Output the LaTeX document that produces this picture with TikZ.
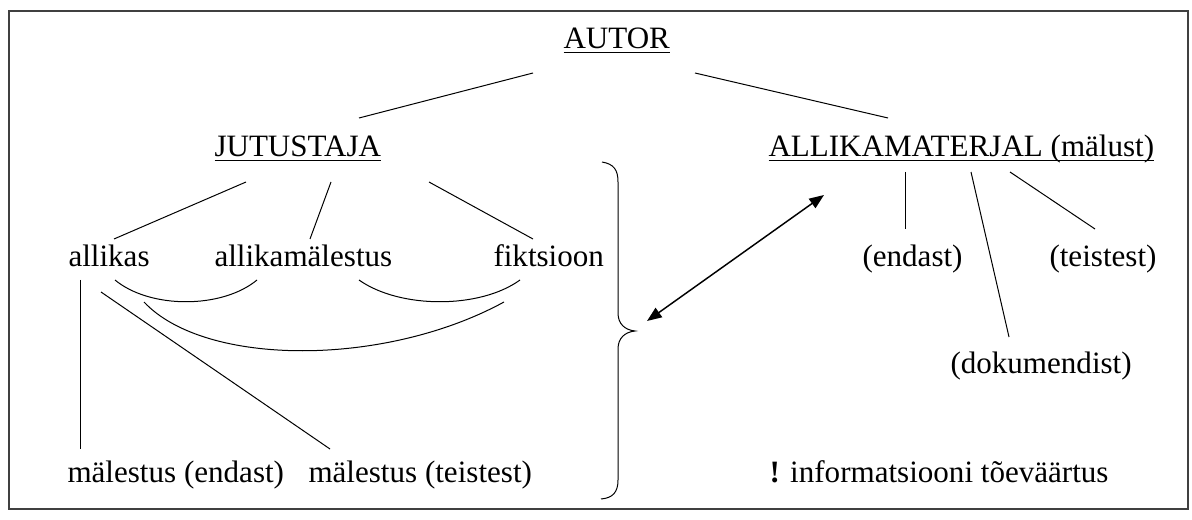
\documentclass[tikz,border=0pt]{standalone}
\usepackage{fontspec}
\setmainfont{Liberation Serif}
\usetikzlibrary{arrows.meta}

\newsavebox{\undlbox}
\newcommand{\undl}[1]{\sbox{\undlbox}{#1}\rlap{\rule[-3.3pt]{\wd\undlbox}{0.95pt}}\usebox{\undlbox}}

\tikzset{every picture/.style={line width=0.75pt}}

\begin{document}
\begin{tikzpicture}[x=0.75pt,y=0.75pt,yscale=-1,xscale=1,
  lbl/.style={anchor=base west,inner sep=0pt,font=\fontsize{23.3}{27}\selectfont},
  frame/.style={line width=1.5pt,draw={rgb,255:red,64;green,64;blue,64}},
  dblarrow/.style={line width=1.1pt,{Triangle[length=11pt,width=8.5pt]}-{Triangle[length=11pt,width=8.5pt]}}]
\useasboundingbox (0,0) rectangle (1192,520);

%Shape: Rectangle
\draw [frame] (9,11) rectangle (1188,509);

% Text Node
\draw (563,49) node [lbl] (autor) {\undl{AUTOR}};
% Text Node
\draw (214,157) node [lbl] (jutustaja) {\undl{JUTUSTAJA}};
% Text Node
\draw (768,157) node [lbl] (allikamat) {\undl{ALLIKAMATERJAL (mälust)}};
% Text Node
\draw (68,267) node [lbl] (allikas) {allikas};
% Text Node
\draw (214,267) node [lbl] (allmal) {allikamälestus};
% Text Node
\draw (493,267) node [lbl] (fiktsioon) {fiktsioon};
% Text Node
\draw (862,267) node [lbl] (endast) {(endast)};
% Text Node
\draw (1049,267) node [lbl] (teistest) {(teistest)};
% Text Node
\draw (950,373) node [lbl] (dokumendist) {(dokumendist)};
% Text Node
\draw (67,482) node [lbl] (malend) {mälestus (endast)};
% Text Node
\draw (308,482) node [lbl] (malteist) {mälestus (teistest)};
% Text Node
\draw (769,482) node [lbl] (info) {\textbf{!} informatsiooni tõeväärtus};

% line ends
\coordinate (autor-l) at (533,73);
\coordinate (autor-r) at (695,73);
\coordinate (jut-t) at (359,118);
\coordinate (mat-t) at (888,118);
\coordinate (jut-a) at (246,182);
\coordinate (jut-b) at (331,182);
\coordinate (jut-c) at (429,182);
\coordinate (allikas-t) at (114,239);
\coordinate (allmal-t) at (310,239);
\coordinate (fikt-t) at (533,239);
\coordinate (mat-a) at (905,172);
\coordinate (mat-b) at (971,172);
\coordinate (mat-c) at (1010,172);
\coordinate (endast-t) at (905,229);
\coordinate (dok-t) at (1009,337);
\coordinate (teist-t) at (1095,229);
\coordinate (allikas-v) at (80,280);
\coordinate (malend-t) at (80,449);
\coordinate (allikas-d) at (101,292);
\coordinate (malteist-t) at (330,449);
\coordinate (allikas-c1) at (115,280);
\coordinate (allmal-c1) at (257,280);
\coordinate (allmal-c2) at (359,280);
\coordinate (fikt-c2) at (520,280);
\coordinate (allikas-c3) at (144,302);
\coordinate (fikt-c3) at (504,302);
\coordinate (brace-tip) at (647,321);
\coordinate (mat-arr) at (824,195);

%Straight Lines
\draw (autor-l) -- (jut-t) ;
%Straight Lines
\draw (autor-r) -- (mat-t) ;
%Straight Lines
\draw (jut-a) -- (allikas-t) ;
%Straight Lines
\draw (jut-b) -- (allmal-t) ;
%Straight Lines
\draw (jut-c) -- (fikt-t) ;
%Straight Lines
\draw (mat-a) -- (endast-t) ;
%Straight Lines
\draw (mat-b) -- (dok-t) ;
%Straight Lines
\draw (mat-c) -- (teist-t) ;
%Straight Lines
\draw (allikas-v) -- (malend-t) ;
%Straight Lines
\draw (allikas-d) -- (malteist-t) ;

%Curve Lines
\draw (allikas-c1) .. controls (150,309) and (222,309) .. (allmal-c1) ;
%Curve Lines
\draw (allmal-c2) .. controls (400,309) and (480,309) .. (fikt-c2) ;
%Curve Lines
\draw (allikas-c3) .. controls (205,367) and (385,367) .. (fikt-c3) ;

%Shape: Right Brace
\draw (602,162) .. controls (614,164) and (618,170) .. (618,182) -- (618,313) .. controls (618,324) and (625,330) .. (635,331) .. controls (625,332) and (618,338) .. (618,349) -- (618,480) .. controls (618,492) and (613,498) .. (601,499) ;

%Straight Lines
\draw [dblarrow] (brace-tip) -- (mat-arr) ;

\end{tikzpicture}
\end{document}
